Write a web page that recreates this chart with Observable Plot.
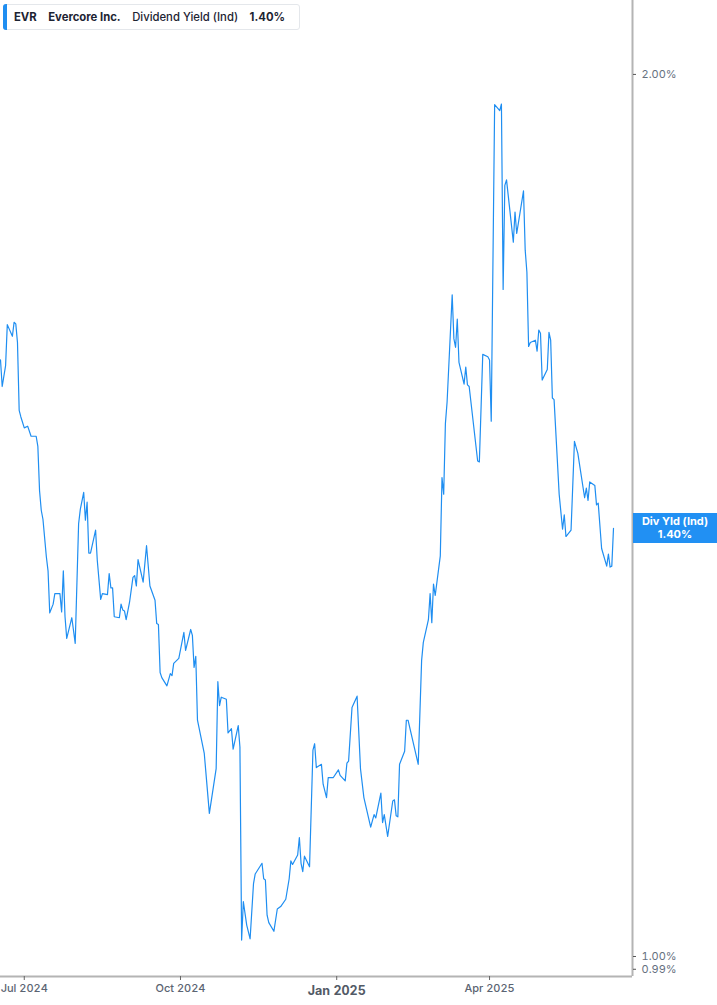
<!DOCTYPE html>
<html>
<head>
<meta charset="utf-8">
<script src="https://cdn.jsdelivr.net/npm/d3@7"></script>
<script src="https://cdn.jsdelivr.net/npm/@observablehq/plot@0.6"></script>
<style>
  html, body { margin: 0; padding: 0; background: #fff; }
  #wrap { position: relative; width: 717px; height: 1005px; overflow: hidden; font-family: Inter, "Noto Sans", sans-serif; }
  #legend { position: absolute; left: 3px; top: 4px; height: 26px; box-sizing: border-box; padding: 0 14px 0 10px;
            border: 1px solid #e4e7eb; border-radius: 3px; background: #fff; display: flex; align-items: center;
            font-size: 11.3px; color: #1d2433; white-space: nowrap; }
  #legend .bar { position: absolute; left: -1px; top: -1px; bottom: -1px; width: 4px; background: #1f8ef1; border-radius: 3px 0 0 3px; }
  #legend span { margin-right: 11.5px; }
  #legend span:last-child { margin-right: 0; }
  #legend .b { font-weight: 700; }
  #legend .m { font-weight: 500; }
  #lastLabel { position: absolute; left: 633px; width: 84px; height: 30px; background: #2190f3; color: #fff;
               font-weight: 700; font-size: 11px; line-height: 13px; text-align: center; box-sizing: border-box; padding-top: 2px; }
</style>
</head>
<body>
<div id="wrap"></div>
<script>
// ---------- data ----------
const ticker = "EVR";
const company = "Evercore Inc.";
const metric = "Dividend Yield (Ind)";
const shortMetric = "Div Yld (Ind)";

const dates = [
  "2024-06-17","2024-06-18","2024-06-20","2024-06-21","2024-06-24","2024-06-25","2024-06-26","2024-06-27","2024-06-28","2024-06-29",
  "2024-07-01","2024-07-03","2024-07-05","2024-07-08","2024-07-09","2024-07-10","2024-07-11","2024-07-12","2024-07-14","2024-07-15",
  "2024-07-16","2024-07-18","2024-07-19","2024-07-22","2024-07-23","2024-07-24","2024-07-25","2024-07-26","2024-07-29","2024-07-31",
  "2024-08-02","2024-08-03","2024-08-05","2024-08-06","2024-08-07","2024-08-08","2024-08-09","2024-08-12","2024-08-13","2024-08-15",
  "2024-08-16","2024-08-19","2024-08-20","2024-08-21","2024-08-22","2024-08-23","2024-08-26","2024-08-27","2024-08-28","2024-08-29",
  "2024-08-30","2024-09-01","2024-09-03","2024-09-04","2024-09-05","2024-09-06","2024-09-09","2024-09-11","2024-09-13","2024-09-16",
  "2024-09-17","2024-09-18","2024-09-19","2024-09-20","2024-09-23","2024-09-25","2024-09-26","2024-09-27","2024-09-30","2024-10-03",
  "2024-10-04","2024-10-07","2024-10-08","2024-10-09","2024-10-10","2024-10-11","2024-10-15","2024-10-18","2024-10-22","2024-10-23",
  "2024-10-24","2024-10-25","2024-10-28","2024-10-29","2024-10-31","2024-11-01","2024-11-04","2024-11-05","2024-11-06","2024-11-07",
  "2024-11-09","2024-11-11","2024-11-13","2024-11-14","2024-11-18","2024-11-19","2024-11-20","2024-11-21","2024-11-22","2024-11-25",
  "2024-11-27","2024-11-29","2024-12-02","2024-12-04","2024-12-05","2024-12-06","2024-12-09","2024-12-10","2024-12-11","2024-12-12",
  "2024-12-13","2024-12-16","2024-12-18","2024-12-19","2024-12-20","2024-12-23","2024-12-24","2024-12-26","2024-12-27","2024-12-30",
  "2025-01-02","2025-01-03","2025-01-06","2025-01-07","2025-01-08","2025-01-10","2025-01-13","2025-01-15","2025-01-17","2025-01-21",
  "2025-01-23","2025-01-24","2025-01-27","2025-01-28","2025-01-29","2025-01-31","2025-02-03","2025-02-04","2025-02-05","2025-02-06",
  "2025-02-07","2025-02-10","2025-02-11","2025-02-12","2025-02-18","2025-02-20","2025-02-21","2025-02-24","2025-02-25","2025-02-26",
  "2025-02-27","2025-02-28","2025-03-03","2025-03-04","2025-03-05","2025-03-06","2025-03-07","2025-03-10","2025-03-11","2025-03-12",
  "2025-03-13","2025-03-14","2025-03-17","2025-03-18","2025-03-19","2025-03-20","2025-03-25","2025-03-26","2025-03-28","2025-03-31",
  "2025-04-01","2025-04-02","2025-04-04","2025-04-07","2025-04-08","2025-04-09","2025-04-10","2025-04-11","2025-04-15","2025-04-16",
  "2025-04-17","2025-04-21","2025-04-22","2025-04-23","2025-04-24","2025-04-25","2025-04-28","2025-04-29","2025-04-30","2025-05-01",
  "2025-05-02","2025-05-05","2025-05-06","2025-05-07","2025-05-08","2025-05-09","2025-05-12","2025-05-14","2025-05-15","2025-05-16",
  "2025-05-19","2025-05-21","2025-05-23","2025-05-27","2025-05-28","2025-05-29","2025-05-30","2025-06-02","2025-06-03","2025-06-04",
  "2025-06-06","2025-06-09","2025-06-10","2025-06-11","2025-06-12","2025-06-13"
];

const yields = [
  1.598,1.565,1.591,1.643,1.628,1.646,1.644,1.620,1.536,1.528,
  1.515,1.517,1.505,1.505,1.493,1.442,1.420,1.410,1.369,1.354,
  1.310,1.319,1.330,1.330,1.311,1.354,1.306,1.284,1.305,1.279,
  1.405,1.421,1.440,1.409,1.429,1.373,1.373,1.398,1.365,1.324,
  1.330,1.329,1.351,1.336,1.336,1.306,1.305,1.319,1.313,1.312,
  1.303,1.321,1.347,1.349,1.338,1.366,1.342,1.381,1.338,1.323,
  1.299,1.298,1.250,1.245,1.237,1.249,1.247,1.259,1.264,1.290,
  1.272,1.293,1.287,1.255,1.266,1.204,1.173,1.119,1.159,1.241,
  1.218,1.226,1.224,1.192,1.196,1.177,1.199,1.179,1.013,1.044,
  1.025,1.014,1.059,1.067,1.076,1.063,1.062,1.033,1.027,1.020,
  1.038,1.040,1.046,1.063,1.078,1.075,1.083,1.098,1.076,1.069,
  1.082,1.073,1.176,1.182,1.160,1.163,1.145,1.133,1.151,1.151,
  1.158,1.153,1.148,1.164,1.166,1.216,1.227,1.159,1.133,1.107,
  1.118,1.115,1.137,1.111,1.118,1.099,1.130,1.131,1.117,1.116,
  1.163,1.175,1.204,1.204,1.163,1.262,1.280,1.303,1.330,1.300,
  1.340,1.328,1.370,1.457,1.438,1.520,1.546,1.682,1.625,1.614,
  1.650,1.595,1.568,1.589,1.567,1.565,1.476,1.475,1.605,1.602,
  1.598,1.523,1.953,1.944,1.954,1.689,1.833,1.841,1.753,1.795,
  1.765,1.825,1.742,1.712,1.615,1.620,1.623,1.609,1.636,1.632,
  1.573,1.586,1.633,1.623,1.551,1.549,1.438,1.399,1.415,1.391,
  1.398,1.499,1.485,1.434,1.445,1.431,1.452,1.448,1.426,1.428,
  1.378,1.359,1.372,1.358,1.359,1.400
];

const tickDates = ["2024-07-01","2024-10-01","2025-01-01","2025-04-01"];
const tickLabels = ["Jul 2024","Oct 2024","Jan 2025","Apr 2025"];
const yTicks = [2.00, 1.00, 0.99];
const xDomain = ["2024-06-17T00:00Z","2025-06-24T04:30Z"];
const yDomain = [0.9844, 2.1196];

// ---------- build ----------
const data = dates.map((d, i) => ({date: new Date(d + "T00:00Z"), value: yields[i]}));
const tickDateObjs = tickDates.map(d => new Date(d + "T00:00Z"));
const labelOf = d => tickLabels[tickDateObjs.findIndex(t => +t === +d)];
const boldTick = tickDateObjs.filter((d, i) => tickLabels[i] === "Jan 2025");
const normalTicks = tickDateObjs.filter((d, i) => tickLabels[i] !== "Jan 2025");
const lineColor = "#1f8ef1";
const fmtPct = v => v.toFixed(2) + "%";

const chart = Plot.plot({
  width: 717,
  height: 1005,
  marginLeft: 0,
  marginRight: 85,
  marginTop: 0,
  marginBottom: 29,
  style: {fontFamily: "Inter, 'Noto Sans', sans-serif", background: "transparent", overflow: "visible"},
  x: {type: "utc", domain: xDomain.map(d => new Date(d))},
  y: {type: "log", domain: yDomain},
  marks: [
    Plot.ruleY([yDomain[0]], {stroke: "#b4b4b4", strokeWidth: 2}),
    Plot.ruleX([new Date(xDomain[1])], {stroke: "#b4b4b4", strokeWidth: 2}),
    Plot.line(data, {x: "date", y: "value", stroke: lineColor, strokeWidth: 1.2}),
    Plot.axisY({anchor: "right", ticks: yTicks, tickFormat: fmtPct, tickSize: 3, tickPadding: 6,
                stroke: "#555", fill: "#66717f", fontSize: 11, label: null}),
    Plot.axisX({anchor: "bottom", ticks: normalTicks, tickFormat: labelOf, tickSize: 4, tickPadding: 4,
                stroke: "#666", fill: "#5b6472", fontSize: 11, fontWeight: 500, label: null}),
    Plot.axisX({anchor: "bottom", ticks: boldTick, tickFormat: labelOf, tickSize: 4, tickPadding: 6,
                stroke: "#666", fill: "#525a66", fontSize: 12.5, fontWeight: 700, label: null})
  ]
});

const wrap = document.getElementById("wrap");
wrap.appendChild(chart);

// legend (top-left)
const legend = document.createElement("div");
legend.id = "legend";
const last = data[data.length - 1];
legend.innerHTML = `<div class="bar"></div><span class="b">${ticker}</span><span class="b">${company}</span><span class="m">${metric}</span><span class="b">${fmtPct(last.value)}</span>`;
wrap.appendChild(legend);

// last-value label on the right axis
const yPix = chart.scale("y").apply(last.value);
const lab = document.createElement("div");
lab.id = "lastLabel";
lab.style.top = (yPix - 15) + "px";
lab.innerHTML = `${shortMetric}<br>${fmtPct(last.value)}`;
wrap.appendChild(lab);
</script>
</body>
</html>
